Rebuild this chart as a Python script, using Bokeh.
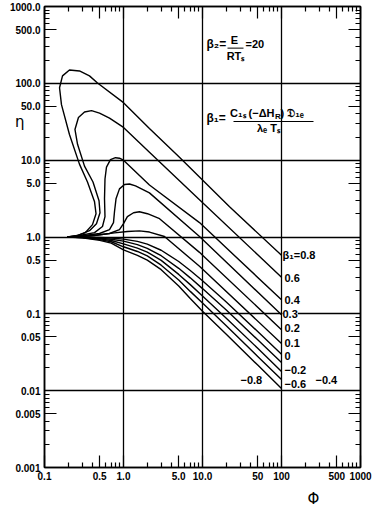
from bokeh.plotting import figure
from bokeh.models import FixedTicker, LogAxis, Label, Range1d, Arrow, Title, CustomLabelingPolicy
from bokeh.embed import file_html
from bokeh.resources import INLINE

# ---------------- data ----------------
beta_labels = ["0.8", "0.6", "0.4", "0.3", "0.2", "0.1", "0", "-0.2", "-0.4", "-0.6", "-0.8"]

phi_p08 = [0.195, 0.24, 0.33, 0.405, 0.449, 0.43, 0.35, 0.277, 0.207, 0.164, 0.155, 0.169, 0.207, 0.277, 0.371, 0.469, 1.0, 2.13, 5.11, 22.0, 100]
eta_p08 = [1.0, 1.015, 1.143, 1.45, 2.01, 2.87, 5.2, 8.88, 21.6, 52.8, 87.5, 125, 149, 145, 125, 101, 56.0, 25.9, 10.9, 2.48, 0.577]

phi_p06 = [0.195, 0.262, 0.371, 0.455, 0.504, 0.49, 0.411, 0.321, 0.262, 0.243, 0.269, 0.321, 0.394, 0.497, 0.665, 1.0, 2.13, 9.16, 100]
eta_p06 = [1.0, 1.045, 1.21, 1.49, 2.07, 2.96, 5.2, 8.37, 16.1, 25.1, 35.9, 42.3, 44.2, 41.0, 35.3, 26.7, 12.7, 3.05, 0.30]

phi_p04 = [0.195, 0.277, 0.43, 0.542, 0.583, 0.575, 0.583, 0.609, 0.684, 0.792, 0.889, 1.0, 2.13, 9.16, 100]
eta_p04 = [1.0, 1.045, 1.14, 1.37, 1.84, 3.14, 5.69, 8.13, 10.15, 10.77, 10.6, 10.0, 4.76, 1.54, 0.152]

phi_p03 = [0.195, 0.321, 0.497, 0.665, 0.747, 0.769, 0.804, 0.889, 1.03, 1.19, 1.42, 2.13, 9.16, 100]
eta_p03 = [1.0, 1.045, 1.11, 1.25, 1.54, 2.13, 3.14, 4.23, 4.83, 4.90, 4.62, 3.75, 1.015, 0.097]

phi_p02 = [0.195, 0.371, 0.665, 0.889, 1.0, 1.12, 1.34, 1.59, 2.01, 2.86, 9.16, 100]
eta_p02 = [1.0, 1.03, 1.11, 1.25, 1.49, 1.84, 2.07, 2.13, 2.01, 1.73, 0.631, 0.0622]

phi_p01 = [0.195, 0.43, 0.769, 1.12, 1.59, 2.13, 3.30, 9.16, 100]
eta_p01 = [1.0, 1.045, 1.13, 1.18, 1.20, 1.16, 1.015, 0.416, 0.041]

phi_low = [0.2, 0.3, 0.5, 0.7, 1.0, 1.5, 2, 3, 5, 7, 10, 20, 50, 100]
eta_0 = [1.0, 0.995, 0.984, 0.969, 0.939, 0.876, 0.806, 0.672, 0.480, 0.367, 0.270, 0.1425, 0.0588, 0.0297]
eta_m02 = [1.0, 0.990, 0.964, 0.935, 0.883, 0.797, 0.713, 0.571, 0.391, 0.294, 0.213, 0.112, 0.0459, 0.0232]
eta_m04 = [1.0, 0.985, 0.945, 0.901, 0.812, 0.718, 0.637, 0.497, 0.326, 0.240, 0.171, 0.0876, 0.0356, 0.0178]
eta_m06 = [1.0, 0.980, 0.925, 0.867, 0.746, 0.648, 0.568, 0.430, 0.276, 0.196, 0.138, 0.0698, 0.0279, 0.0140]
eta_m08 = [1.0, 0.975, 0.905, 0.833, 0.681, 0.578, 0.500, 0.376, 0.230, 0.158, 0.108, 0.0542, 0.0215, 0.0107]

x_major = [0.1, 0.5, 1, 5, 10, 50, 100, 500, 1000]
x_major_labels = ["0.1", "0.5", "1.0", "5.0", "10.0", "50", "100", "500", "1000"]
y_major = [0.001, 0.005, 0.01, 0.05, 0.1, 0.5, 1, 5, 10, 50, 100, 500, 1000]
y_major_labels = ["0.001", "0.005", "0.01", "0.05", "0.1", "0.5", "1.0", "5.0", "10.0", "50.0", "100.0", "500.0", "1000.0"]

# ---------------- figure ----------------
FONT = "Liberation Sans"
W, H = 376, 512
BL, BR, BT, BB = 44, 16, 6, 43
p = figure(width=W, height=H, x_axis_type="log", y_axis_type="log",
           x_range=Range1d(0.1, 1000), y_range=Range1d(0.001, 1000),
           output_backend="svg", toolbar_location=None,
           min_border_left=BL, min_border_right=BR, min_border_top=BT, min_border_bottom=BB)
p.background_fill_color = "white"
p.border_fill_color = "white"
p.outline_line_color = "black"
p.outline_line_width = 1.5

x_minor = [k * 10.0 ** n for n in range(-1, 3) for k in (2, 3, 4, 6, 7, 8, 9)]
y_minor = [k * 10.0 ** n for n in range(-3, 3) for k in (2, 3, 4, 6, 7, 8, 9)]

hide_all = CustomLabelingPolicy(code="for (const i of indices) indices.unset(i)")


def style_axis(ax, ticks, minors, labels, show):
    ax.ticker = FixedTicker(ticks=ticks, minor_ticks=minors)
    ax.axis_line_color = "black"
    ax.axis_line_width = 1.5
    ax.major_tick_in = 12
    ax.major_tick_out = 0
    ax.minor_tick_in = 5
    ax.minor_tick_out = 0
    ax.major_tick_line_width = 1.2
    ax.minor_tick_line_width = 1.2
    ax.major_tick_line_color = "black"
    ax.minor_tick_line_color = "black"
    if show:
        ax.major_label_overrides = {t: l for t, l in zip(ticks, labels)}
        ax.major_label_text_font = FONT
        ax.major_label_text_font_style = "bold"
        ax.major_label_text_font_size = "10px"
        ax.major_label_text_color = "black"
        ax.major_label_standoff = 4
    else:
        ax.major_label_policy = hide_all
        ax.major_label_text_font_size = "1px"
        ax.major_label_standoff = 0


style_axis(p.xaxis[0], x_major, x_minor, x_major_labels, True)
style_axis(p.yaxis[0], y_major, y_minor, y_major_labels, True)
top = LogAxis()
right = LogAxis()
style_axis(top, x_major, x_minor, x_major_labels, False)
style_axis(right, y_major, y_minor, y_major_labels, False)
p.add_layout(top, "above")
p.add_layout(right, "right")

p.xgrid.ticker = FixedTicker(ticks=[1, 10, 100])
p.ygrid.ticker = FixedTicker(ticks=[0.01, 0.1, 1, 10, 100])
for g in (p.xgrid, p.ygrid):
    g.grid_line_color = "black"
    g.grid_line_width = 1.3
    g.grid_line_alpha = 1.0

# ---------------- curves ----------------
curves = [
    (phi_p08, eta_p08), (phi_p06, eta_p06), (phi_p04, eta_p04), (phi_p03, eta_p03),
    (phi_p02, eta_p02), (phi_p01, eta_p01), (phi_low, eta_0), (phi_low, eta_m02),
    (phi_low, eta_m04), (phi_low, eta_m06), (phi_low, eta_m08),
]
for xs, ys in curves:
    p.line(xs, ys, line_color="black", line_width=1.4)


# ---------------- annotations ----------------
def at(x, y):
    """reference-picture pixel position -> data position (layout only)"""
    return 10 ** ((x - 124) / 79.0), 10 ** ((238.5 - y) / 77.5)


def txt(x, y, s, size="11px", align="left", style="bold", font=FONT, bg=None):
    dx, dy = at(x, y)
    lab = Label(x=dx, y=dy, text=s, text_font=font, text_font_style=style,
                text_font_size=size, text_align=align, text_baseline="middle",
                text_color="black")
    if bg:
        lab.background_fill_color = bg
    p.add_layout(lab)


def bar(x0, x1, y):
    a0, b0 = at(x0, y)
    a1, _ = at(x1, y)
    p.add_layout(Arrow(end=None, x_start=a0, y_start=b0, x_end=a1, y_end=b0,
                       line_color="black", line_width=1))


# curve labels at the right end
txt(283, 257, "β₁=" + beta_labels[0])
txt(285, 280, beta_labels[1])
txt(285, 302, beta_labels[2])
txt(283, 316, beta_labels[3], bg="white")
txt(285, 330, beta_labels[4])
txt(285, 345, beta_labels[5])
txt(285, 359, beta_labels[6])
txt(285, 373, "−0.2")
txt(285, 387, "−0.6")
txt(241, 383, "−0.8")
txt(316, 383, "−0.4")

# beta2 formula
txt(207, 44, "β₂=", size="12px")
txt(235, 40, "E", align="center")
bar(228, 244, 48)
txt(236, 56, "RTₛ", align="center")
txt(246, 44, "=20")

# beta1 formula
txt(207, 118, "β₁=", size="12px")
txt(275, 113, "C₁ₛ (−ΔH", align="right")
txt(275.5, 117, "R", size="8px")
txt(281, 113, ") 𝔇₁ₑ")
bar(234, 314, 122)
txt(269, 129, "λₑ Tₛ", align="center")

# y title: a label-only axis stacked outside the tick labels, pulled inwards
eta_pos = 31.6
eta_axis = LogAxis()
eta_axis.ticker = FixedTicker(ticks=[eta_pos], minor_ticks=[])
eta_axis.major_label_overrides = {eta_pos: "η"}
eta_axis.axis_line_color = None
eta_axis.major_tick_line_color = None
eta_axis.minor_tick_line_color = None
eta_axis.major_tick_in = 0
eta_axis.major_tick_out = 0
eta_axis.major_label_standoff = -18
eta_axis.major_label_text_font = "DejaVu Sans"
eta_axis.major_label_text_font_size = "15px"
eta_axis.major_label_text_color = "black"
p.add_layout(eta_axis, "left")

# x title
p.add_layout(Title(text="Φ", align="left", offset=313 - BL - 6, standoff=10,
                   text_font="DejaVu Sans", text_font_size="15px", text_font_style="normal",
                   text_color="black"), "below")

open("out.html", "w").write(file_html(p, INLINE))
